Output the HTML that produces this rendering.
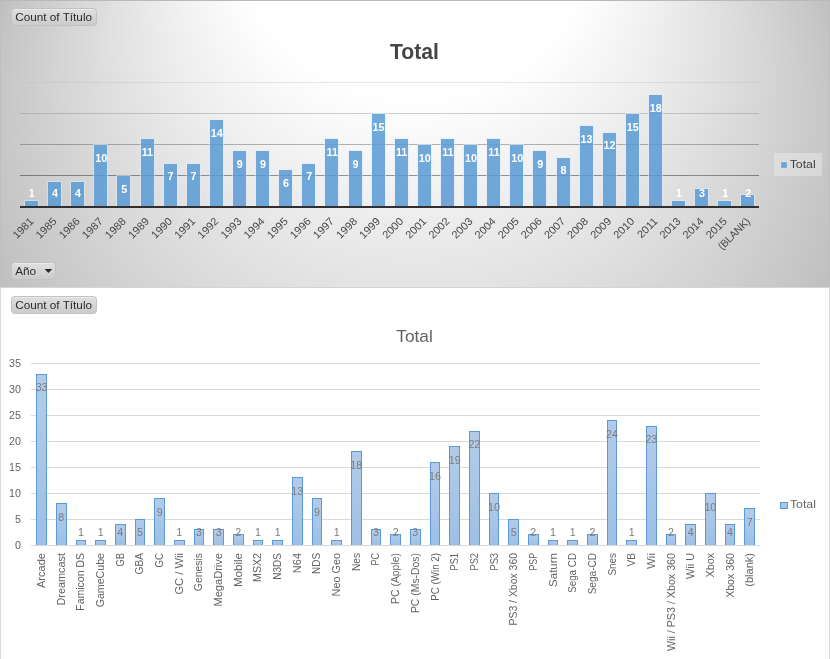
<!DOCTYPE html>
<html lang="es"><head><meta charset="utf-8"><title>Total</title>
<style>
html,body{margin:0;padding:0;background:#fff;}
body{width:830px;height:659px;overflow:hidden;}
svg{display:block;font-family:"Liberation Sans",sans-serif;}
.xl1{font-size:10.7px;fill:#484848;text-anchor:end;}
.dl1{font-size:10.8px;font-weight:bold;fill:#fff;text-anchor:middle;}
.xl2{font-size:10.7px;fill:#636363;text-anchor:end;}
.yl2{font-size:10.7px;fill:#636363;text-anchor:end;}
.dl2{font-size:10.7px;fill:#7c7c7c;text-anchor:middle;}
.btn{font-size:11.1px;fill:#2b2b2b;}
</style></head><body>
<svg width="830" height="659" viewBox="0 0 830 659">
<defs>
<radialGradient id="bg" gradientUnits="userSpaceOnUse" cx="0" cy="0" r="1" fx="0" fy="-0.8394" gradientTransform="translate(415 143.5) scale(444.8 398.5)">
<stop offset="0" stop-color="#ffffff"/>
<stop offset="0.39" stop-color="#ffffff"/>
<stop offset="1" stop-color="#bfbfbf"/>
</radialGradient>
<linearGradient id="btn" x1="0" y1="0" x2="0" y2="1">
<stop offset="0" stop-color="#e0e0e0"/><stop offset="1" stop-color="#cbcbcb"/>
</linearGradient>
<linearGradient id="bar2" x1="0" y1="0" x2="0" y2="1">
<stop offset="0" stop-color="#b3cbea"/><stop offset="1" stop-color="#9dc0e5"/>
</linearGradient>
</defs>

<rect x="0" y="287" width="830" height="372" fill="#fff"/>
<rect x="0" y="287" width="1" height="372" fill="#d9d9d9"/>
<rect x="829" y="287" width="1" height="372" fill="#d9d9d9"/>
<rect x="0" y="0" width="830" height="288" fill="url(#bg)"/>
<rect x="0" y="0" width="830" height="1" fill="#b9b9b9"/>
<rect x="0" y="1" width="1" height="286" fill="#bfbfbf"/>
<rect x="829" y="1" width="1" height="286" fill="#bfbfbf"/>
<rect x="0" y="287" width="830" height="1" fill="#d4d4d4"/>
<rect x="20.0" y="175" width="739.0" height="1" fill="rgb(13,13,13)" opacity="0.420"/>
<rect x="20.0" y="144" width="739.0" height="1" fill="rgb(72,72,72)" opacity="0.400"/>
<rect x="20.0" y="113" width="739.0" height="1" fill="rgb(132,132,132)" opacity="0.380"/>
<rect x="20.0" y="82" width="739.0" height="1" fill="rgb(191,191,191)" opacity="0.360"/>
<rect x="25" y="201" width="13" height="6" fill="#5b9bd5" fill-opacity="0.86"/>
<path d="M24.5 207V200.5H38.5V207" fill="none" stroke="#deebf7" stroke-opacity="0.55" stroke-width="1"/>
<rect x="48" y="182" width="13" height="25" fill="#5b9bd5" fill-opacity="0.86"/>
<path d="M47.5 207V181.5H61.5V207" fill="none" stroke="#deebf7" stroke-opacity="0.55" stroke-width="1"/>
<rect x="71" y="182" width="13" height="25" fill="#5b9bd5" fill-opacity="0.86"/>
<path d="M70.5 207V181.5H84.5V207" fill="none" stroke="#deebf7" stroke-opacity="0.55" stroke-width="1"/>
<rect x="94" y="145" width="13" height="62" fill="#5b9bd5" fill-opacity="0.86"/>
<path d="M93.5 207V144.5H107.5V207" fill="none" stroke="#deebf7" stroke-opacity="0.55" stroke-width="1"/>
<rect x="117" y="176" width="13" height="31" fill="#5b9bd5" fill-opacity="0.86"/>
<path d="M116.5 207V175.5H130.5V207" fill="none" stroke="#deebf7" stroke-opacity="0.55" stroke-width="1"/>
<rect x="141" y="139" width="13" height="68" fill="#5b9bd5" fill-opacity="0.86"/>
<path d="M140.5 207V138.5H154.5V207" fill="none" stroke="#deebf7" stroke-opacity="0.55" stroke-width="1"/>
<rect x="164" y="164" width="13" height="43" fill="#5b9bd5" fill-opacity="0.86"/>
<path d="M163.5 207V163.5H177.5V207" fill="none" stroke="#deebf7" stroke-opacity="0.55" stroke-width="1"/>
<rect x="187" y="164" width="13" height="43" fill="#5b9bd5" fill-opacity="0.86"/>
<path d="M186.5 207V163.5H200.5V207" fill="none" stroke="#deebf7" stroke-opacity="0.55" stroke-width="1"/>
<rect x="210" y="120" width="13" height="87" fill="#5b9bd5" fill-opacity="0.86"/>
<path d="M209.5 207V119.5H223.5V207" fill="none" stroke="#deebf7" stroke-opacity="0.55" stroke-width="1"/>
<rect x="233" y="151" width="13" height="56" fill="#5b9bd5" fill-opacity="0.86"/>
<path d="M232.5 207V150.5H246.5V207" fill="none" stroke="#deebf7" stroke-opacity="0.55" stroke-width="1"/>
<rect x="256" y="151" width="13" height="56" fill="#5b9bd5" fill-opacity="0.86"/>
<path d="M255.5 207V150.5H269.5V207" fill="none" stroke="#deebf7" stroke-opacity="0.55" stroke-width="1"/>
<rect x="279" y="170" width="13" height="37" fill="#5b9bd5" fill-opacity="0.86"/>
<path d="M278.5 207V169.5H292.5V207" fill="none" stroke="#deebf7" stroke-opacity="0.55" stroke-width="1"/>
<rect x="302" y="164" width="13" height="43" fill="#5b9bd5" fill-opacity="0.86"/>
<path d="M301.5 207V163.5H315.5V207" fill="none" stroke="#deebf7" stroke-opacity="0.55" stroke-width="1"/>
<rect x="325" y="139" width="13" height="68" fill="#5b9bd5" fill-opacity="0.86"/>
<path d="M324.5 207V138.5H338.5V207" fill="none" stroke="#deebf7" stroke-opacity="0.55" stroke-width="1"/>
<rect x="349" y="151" width="13" height="56" fill="#5b9bd5" fill-opacity="0.86"/>
<path d="M348.5 207V150.5H362.5V207" fill="none" stroke="#deebf7" stroke-opacity="0.55" stroke-width="1"/>
<rect x="372" y="114" width="13" height="93" fill="#5b9bd5" fill-opacity="0.86"/>
<path d="M371.5 207V113.5H385.5V207" fill="none" stroke="#deebf7" stroke-opacity="0.55" stroke-width="1"/>
<rect x="395" y="139" width="13" height="68" fill="#5b9bd5" fill-opacity="0.86"/>
<path d="M394.5 207V138.5H408.5V207" fill="none" stroke="#deebf7" stroke-opacity="0.55" stroke-width="1"/>
<rect x="418" y="145" width="13" height="62" fill="#5b9bd5" fill-opacity="0.86"/>
<path d="M417.5 207V144.5H431.5V207" fill="none" stroke="#deebf7" stroke-opacity="0.55" stroke-width="1"/>
<rect x="441" y="139" width="13" height="68" fill="#5b9bd5" fill-opacity="0.86"/>
<path d="M440.5 207V138.5H454.5V207" fill="none" stroke="#deebf7" stroke-opacity="0.55" stroke-width="1"/>
<rect x="464" y="145" width="13" height="62" fill="#5b9bd5" fill-opacity="0.86"/>
<path d="M463.5 207V144.5H477.5V207" fill="none" stroke="#deebf7" stroke-opacity="0.55" stroke-width="1"/>
<rect x="487" y="139" width="13" height="68" fill="#5b9bd5" fill-opacity="0.86"/>
<path d="M486.5 207V138.5H500.5V207" fill="none" stroke="#deebf7" stroke-opacity="0.55" stroke-width="1"/>
<rect x="510" y="145" width="13" height="62" fill="#5b9bd5" fill-opacity="0.86"/>
<path d="M509.5 207V144.5H523.5V207" fill="none" stroke="#deebf7" stroke-opacity="0.55" stroke-width="1"/>
<rect x="533" y="151" width="13" height="56" fill="#5b9bd5" fill-opacity="0.86"/>
<path d="M532.5 207V150.5H546.5V207" fill="none" stroke="#deebf7" stroke-opacity="0.55" stroke-width="1"/>
<rect x="557" y="158" width="13" height="49" fill="#5b9bd5" fill-opacity="0.86"/>
<path d="M556.5 207V157.5H570.5V207" fill="none" stroke="#deebf7" stroke-opacity="0.55" stroke-width="1"/>
<rect x="580" y="126" width="13" height="81" fill="#5b9bd5" fill-opacity="0.86"/>
<path d="M579.5 207V125.5H593.5V207" fill="none" stroke="#deebf7" stroke-opacity="0.55" stroke-width="1"/>
<rect x="603" y="133" width="13" height="74" fill="#5b9bd5" fill-opacity="0.86"/>
<path d="M602.5 207V132.5H616.5V207" fill="none" stroke="#deebf7" stroke-opacity="0.55" stroke-width="1"/>
<rect x="626" y="114" width="13" height="93" fill="#5b9bd5" fill-opacity="0.86"/>
<path d="M625.5 207V113.5H639.5V207" fill="none" stroke="#deebf7" stroke-opacity="0.55" stroke-width="1"/>
<rect x="649" y="95" width="13" height="112" fill="#5b9bd5" fill-opacity="0.86"/>
<path d="M648.5 207V94.5H662.5V207" fill="none" stroke="#deebf7" stroke-opacity="0.55" stroke-width="1"/>
<rect x="672" y="201" width="13" height="6" fill="#5b9bd5" fill-opacity="0.86"/>
<path d="M671.5 207V200.5H685.5V207" fill="none" stroke="#deebf7" stroke-opacity="0.55" stroke-width="1"/>
<rect x="695" y="189" width="13" height="18" fill="#5b9bd5" fill-opacity="0.86"/>
<path d="M694.5 207V188.5H708.5V207" fill="none" stroke="#deebf7" stroke-opacity="0.55" stroke-width="1"/>
<rect x="718" y="201" width="13" height="6" fill="#5b9bd5" fill-opacity="0.86"/>
<path d="M717.5 207V200.5H731.5V207" fill="none" stroke="#deebf7" stroke-opacity="0.55" stroke-width="1"/>
<rect x="741" y="195" width="13" height="12" fill="#5b9bd5" fill-opacity="0.86"/>
<path d="M740.5 207V194.5H754.5V207" fill="none" stroke="#deebf7" stroke-opacity="0.55" stroke-width="1"/>
<rect x="20.0" y="206" width="739.0" height="2" fill="#303030"/>
<text class="dl1" transform="translate(31.85 197) scale(1.000 1)">1</text>
<text class="xl1" transform="translate(28.95 216.70) rotate(-45) scale(1.030 1)" x="0" y="7.5">1981</text>
<text class="dl1" transform="translate(54.96 197) scale(1.000 1)">4</text>
<text class="xl1" transform="translate(52.06 216.70) rotate(-45) scale(1.030 1)" x="0" y="7.5">1985</text>
<text class="dl1" transform="translate(78.07 197) scale(1.000 1)">4</text>
<text class="xl1" transform="translate(75.17 216.70) rotate(-45) scale(1.030 1)" x="0" y="7.5">1986</text>
<text class="dl1" transform="translate(101.18 162) scale(1.000 1)">10</text>
<text class="xl1" transform="translate(98.28 216.70) rotate(-45) scale(1.030 1)" x="0" y="7.5">1987</text>
<text class="dl1" transform="translate(124.29 193) scale(1.000 1)">5</text>
<text class="xl1" transform="translate(121.39 216.70) rotate(-45) scale(1.030 1)" x="0" y="7.5">1988</text>
<text class="dl1" transform="translate(147.40 156) scale(1.000 1)">11</text>
<text class="xl1" transform="translate(144.50 216.70) rotate(-45) scale(1.030 1)" x="0" y="7.5">1989</text>
<text class="dl1" transform="translate(170.51 180) scale(1.000 1)">7</text>
<text class="xl1" transform="translate(167.61 216.70) rotate(-45) scale(1.030 1)" x="0" y="7.5">1990</text>
<text class="dl1" transform="translate(193.62 180) scale(1.000 1)">7</text>
<text class="xl1" transform="translate(190.72 216.70) rotate(-45) scale(1.030 1)" x="0" y="7.5">1991</text>
<text class="dl1" transform="translate(216.73 137) scale(1.000 1)">14</text>
<text class="xl1" transform="translate(213.83 216.70) rotate(-45) scale(1.030 1)" x="0" y="7.5">1992</text>
<text class="dl1" transform="translate(239.84 168) scale(1.000 1)">9</text>
<text class="xl1" transform="translate(236.94 216.70) rotate(-45) scale(1.030 1)" x="0" y="7.5">1993</text>
<text class="dl1" transform="translate(262.95 168) scale(1.000 1)">9</text>
<text class="xl1" transform="translate(260.05 216.70) rotate(-45) scale(1.030 1)" x="0" y="7.5">1994</text>
<text class="dl1" transform="translate(286.06 187) scale(1.000 1)">6</text>
<text class="xl1" transform="translate(283.16 216.70) rotate(-45) scale(1.030 1)" x="0" y="7.5">1995</text>
<text class="dl1" transform="translate(309.17 180) scale(1.000 1)">7</text>
<text class="xl1" transform="translate(306.27 216.70) rotate(-45) scale(1.030 1)" x="0" y="7.5">1996</text>
<text class="dl1" transform="translate(332.28 156) scale(1.000 1)">11</text>
<text class="xl1" transform="translate(329.38 216.70) rotate(-45) scale(1.030 1)" x="0" y="7.5">1997</text>
<text class="dl1" transform="translate(355.39 168) scale(1.000 1)">9</text>
<text class="xl1" transform="translate(352.49 216.70) rotate(-45) scale(1.030 1)" x="0" y="7.5">1998</text>
<text class="dl1" transform="translate(378.50 131) scale(1.000 1)">15</text>
<text class="xl1" transform="translate(375.60 216.70) rotate(-45) scale(1.030 1)" x="0" y="7.5">1999</text>
<text class="dl1" transform="translate(401.61 156) scale(1.000 1)">11</text>
<text class="xl1" transform="translate(398.71 216.70) rotate(-45) scale(1.030 1)" x="0" y="7.5">2000</text>
<text class="dl1" transform="translate(424.72 162) scale(1.000 1)">10</text>
<text class="xl1" transform="translate(421.82 216.70) rotate(-45) scale(1.030 1)" x="0" y="7.5">2001</text>
<text class="dl1" transform="translate(447.83 156) scale(1.000 1)">11</text>
<text class="xl1" transform="translate(444.93 216.70) rotate(-45) scale(1.030 1)" x="0" y="7.5">2002</text>
<text class="dl1" transform="translate(470.94 162) scale(1.000 1)">10</text>
<text class="xl1" transform="translate(468.04 216.70) rotate(-45) scale(1.030 1)" x="0" y="7.5">2003</text>
<text class="dl1" transform="translate(494.05 156) scale(1.000 1)">11</text>
<text class="xl1" transform="translate(491.15 216.70) rotate(-45) scale(1.030 1)" x="0" y="7.5">2004</text>
<text class="dl1" transform="translate(517.16 162) scale(1.000 1)">10</text>
<text class="xl1" transform="translate(514.26 216.70) rotate(-45) scale(1.030 1)" x="0" y="7.5">2005</text>
<text class="dl1" transform="translate(540.27 168) scale(1.000 1)">9</text>
<text class="xl1" transform="translate(537.37 216.70) rotate(-45) scale(1.030 1)" x="0" y="7.5">2006</text>
<text class="dl1" transform="translate(563.38 174) scale(1.000 1)">8</text>
<text class="xl1" transform="translate(560.48 216.70) rotate(-45) scale(1.030 1)" x="0" y="7.5">2007</text>
<text class="dl1" transform="translate(586.49 143) scale(1.000 1)">13</text>
<text class="xl1" transform="translate(583.59 216.70) rotate(-45) scale(1.030 1)" x="0" y="7.5">2008</text>
<text class="dl1" transform="translate(609.60 149) scale(1.000 1)">12</text>
<text class="xl1" transform="translate(606.70 216.70) rotate(-45) scale(1.030 1)" x="0" y="7.5">2009</text>
<text class="dl1" transform="translate(632.71 131) scale(1.000 1)">15</text>
<text class="xl1" transform="translate(629.81 216.70) rotate(-45) scale(1.030 1)" x="0" y="7.5">2010</text>
<text class="dl1" transform="translate(655.82 112) scale(1.000 1)">18</text>
<text class="xl1" transform="translate(652.92 216.70) rotate(-45) scale(1.030 1)" x="0" y="7.5">2011</text>
<text class="dl1" transform="translate(678.93 197) scale(1.000 1)">1</text>
<text class="xl1" transform="translate(676.03 216.70) rotate(-45) scale(1.030 1)" x="0" y="7.5">2013</text>
<text class="dl1" transform="translate(702.04 197) scale(1.000 1)">3</text>
<text class="xl1" transform="translate(699.14 216.70) rotate(-45) scale(1.030 1)" x="0" y="7.5">2014</text>
<text class="dl1" transform="translate(725.15 197) scale(1.000 1)">1</text>
<text class="xl1" transform="translate(722.25 216.70) rotate(-45) scale(1.030 1)" x="0" y="7.5">2015</text>
<text class="dl1" transform="translate(748.26 197) scale(1.000 1)">2</text>
<text class="xl1" transform="translate(745.36 216.70) rotate(-45) scale(0.950 1)" x="0" y="7.5">(BLANK)</text>
<text transform="translate(414.5 58.6) scale(0.98 1)" text-anchor="middle" font-size="21.6" font-weight="bold" fill="#454545">Total</text>
<rect x="774" y="153" width="48" height="23" fill="#f2f2f2" opacity="0.39"/>
<rect x="781" y="162" width="6" height="6" fill="#5b9bd5" fill-opacity="0.85" stroke="#fff" stroke-opacity="0.3" stroke-width="0.6"/>
<text transform="translate(789.7 168) scale(1.09 1)" font-size="11.3" fill="#404040">Total</text>
<rect x="11.5" y="8.5" width="85.0" height="17.0" rx="3.2" ry="3.2" fill="url(#btn)" stroke="#c2c2c2" stroke-width="1"/>
<path d="M14.0 9.5 h80.0" stroke="#ececec" stroke-opacity="0.7" stroke-width="1" fill="none"/>
<text class="btn" transform="translate(15.2 21.0) scale(1.06 1)">Count of Título</text>
<rect x="11.5" y="262.5" width="44.0" height="17.0" rx="3.2" ry="3.2" fill="url(#btn)" stroke="#c2c2c2" stroke-width="1"/>
<path d="M14.0 263.5 h39.0" stroke="#ececec" stroke-opacity="0.7" stroke-width="1" fill="none"/>
<text class="btn" transform="translate(15.2 275.0) scale(1.06 1)">Año</text>
<path d="M44.6 268.9 h7.6 l-3.8 4.2 z" fill="#262626"/>
<rect x="11.5" y="296.5" width="85.0" height="17.0" rx="3.2" ry="3.2" fill="url(#btn)" stroke="#c2c2c2" stroke-width="1"/>
<path d="M14.0 297.5 h80.0" stroke="#ececec" stroke-opacity="0.7" stroke-width="1" fill="none"/>
<text class="btn" transform="translate(15.2 309.0) scale(1.06 1)">Count of Título</text>
<text transform="translate(414.5 342) scale(1.04 1)" text-anchor="middle" font-size="16.6" fill="#626262">Total</text>
<rect x="31.0" y="519" width="729.0" height="1" fill="#d9d9d9"/>
<rect x="31.0" y="493" width="729.0" height="1" fill="#d9d9d9"/>
<rect x="31.0" y="467" width="729.0" height="1" fill="#d9d9d9"/>
<rect x="31.0" y="441" width="729.0" height="1" fill="#d9d9d9"/>
<rect x="31.0" y="415" width="729.0" height="1" fill="#d9d9d9"/>
<rect x="31.0" y="389" width="729.0" height="1" fill="#d9d9d9"/>
<rect x="31.0" y="363" width="729.0" height="1" fill="#d9d9d9"/>
<rect x="36.5" y="374.5" width="10" height="171.0" fill="url(#bar2)" stroke="#5b9bd5" stroke-width="1"/>
<rect x="56.5" y="503.5" width="10" height="42.0" fill="url(#bar2)" stroke="#5b9bd5" stroke-width="1"/>
<rect x="76.5" y="540.5" width="9" height="5.0" fill="url(#bar2)" stroke="#5b9bd5" stroke-width="1"/>
<rect x="95.5" y="540.5" width="10" height="5.0" fill="url(#bar2)" stroke="#5b9bd5" stroke-width="1"/>
<rect x="115.5" y="524.5" width="10" height="21.0" fill="url(#bar2)" stroke="#5b9bd5" stroke-width="1"/>
<rect x="135.5" y="519.5" width="9" height="26.0" fill="url(#bar2)" stroke="#5b9bd5" stroke-width="1"/>
<rect x="154.5" y="498.5" width="10" height="47.0" fill="url(#bar2)" stroke="#5b9bd5" stroke-width="1"/>
<rect x="174.5" y="540.5" width="10" height="5.0" fill="url(#bar2)" stroke="#5b9bd5" stroke-width="1"/>
<rect x="194.5" y="529.5" width="9" height="16.0" fill="url(#bar2)" stroke="#5b9bd5" stroke-width="1"/>
<rect x="213.5" y="529.5" width="10" height="16.0" fill="url(#bar2)" stroke="#5b9bd5" stroke-width="1"/>
<rect x="233.5" y="534.5" width="10" height="11.0" fill="url(#bar2)" stroke="#5b9bd5" stroke-width="1"/>
<rect x="253.5" y="540.5" width="9" height="5.0" fill="url(#bar2)" stroke="#5b9bd5" stroke-width="1"/>
<rect x="272.5" y="540.5" width="10" height="5.0" fill="url(#bar2)" stroke="#5b9bd5" stroke-width="1"/>
<rect x="292.5" y="477.5" width="10" height="68.0" fill="url(#bar2)" stroke="#5b9bd5" stroke-width="1"/>
<rect x="312.5" y="498.5" width="9" height="47.0" fill="url(#bar2)" stroke="#5b9bd5" stroke-width="1"/>
<rect x="331.5" y="540.5" width="10" height="5.0" fill="url(#bar2)" stroke="#5b9bd5" stroke-width="1"/>
<rect x="351.5" y="451.5" width="10" height="94.0" fill="url(#bar2)" stroke="#5b9bd5" stroke-width="1"/>
<rect x="371.5" y="529.5" width="9" height="16.0" fill="url(#bar2)" stroke="#5b9bd5" stroke-width="1"/>
<rect x="390.5" y="534.5" width="10" height="11.0" fill="url(#bar2)" stroke="#5b9bd5" stroke-width="1"/>
<rect x="410.5" y="529.5" width="10" height="16.0" fill="url(#bar2)" stroke="#5b9bd5" stroke-width="1"/>
<rect x="430.5" y="462.5" width="9" height="83.0" fill="url(#bar2)" stroke="#5b9bd5" stroke-width="1"/>
<rect x="449.5" y="446.5" width="10" height="99.0" fill="url(#bar2)" stroke="#5b9bd5" stroke-width="1"/>
<rect x="469.5" y="431.5" width="10" height="114.0" fill="url(#bar2)" stroke="#5b9bd5" stroke-width="1"/>
<rect x="489.5" y="493.5" width="9" height="52.0" fill="url(#bar2)" stroke="#5b9bd5" stroke-width="1"/>
<rect x="508.5" y="519.5" width="10" height="26.0" fill="url(#bar2)" stroke="#5b9bd5" stroke-width="1"/>
<rect x="528.5" y="534.5" width="10" height="11.0" fill="url(#bar2)" stroke="#5b9bd5" stroke-width="1"/>
<rect x="548.5" y="540.5" width="9" height="5.0" fill="url(#bar2)" stroke="#5b9bd5" stroke-width="1"/>
<rect x="567.5" y="540.5" width="10" height="5.0" fill="url(#bar2)" stroke="#5b9bd5" stroke-width="1"/>
<rect x="587.5" y="534.5" width="10" height="11.0" fill="url(#bar2)" stroke="#5b9bd5" stroke-width="1"/>
<rect x="607.5" y="420.5" width="9" height="125.0" fill="url(#bar2)" stroke="#5b9bd5" stroke-width="1"/>
<rect x="626.5" y="540.5" width="10" height="5.0" fill="url(#bar2)" stroke="#5b9bd5" stroke-width="1"/>
<rect x="646.5" y="426.5" width="10" height="119.0" fill="url(#bar2)" stroke="#5b9bd5" stroke-width="1"/>
<rect x="666.5" y="534.5" width="9" height="11.0" fill="url(#bar2)" stroke="#5b9bd5" stroke-width="1"/>
<rect x="685.5" y="524.5" width="10" height="21.0" fill="url(#bar2)" stroke="#5b9bd5" stroke-width="1"/>
<rect x="705.5" y="493.5" width="10" height="52.0" fill="url(#bar2)" stroke="#5b9bd5" stroke-width="1"/>
<rect x="725.5" y="524.5" width="9" height="21.0" fill="url(#bar2)" stroke="#5b9bd5" stroke-width="1"/>
<rect x="744.5" y="508.5" width="10" height="37.0" fill="url(#bar2)" stroke="#5b9bd5" stroke-width="1"/>
<rect x="31.0" y="545" width="729.0" height="1" fill="#d9d9d9"/>
<text class="yl2" x="21" y="549.30">0</text>
<text class="yl2" x="21" y="523.30">5</text>
<text class="yl2" x="21" y="497.30">10</text>
<text class="yl2" x="21" y="471.30">15</text>
<text class="yl2" x="21" y="445.30">20</text>
<text class="yl2" x="21" y="419.30">25</text>
<text class="yl2" x="21" y="393.30">30</text>
<text class="yl2" x="21" y="367.30">35</text>
<text class="dl2" x="41.60" y="391">33</text>
<text class="xl2" transform="translate(41.30 553.00) rotate(-90) scale(1.035 1)" x="0" y="3.80">Arcade</text>
<text class="dl2" x="61.27" y="521">8</text>
<text class="xl2" transform="translate(60.97 553.00) rotate(-90) scale(1.018 1)" x="0" y="3.80">Dreamcast</text>
<text class="dl2" x="80.94" y="536">1</text>
<text class="xl2" transform="translate(80.64 553.00) rotate(-90) scale(0.983 1)" x="0" y="3.80">Famicon DS</text>
<text class="dl2" x="100.61" y="536">1</text>
<text class="xl2" transform="translate(100.31 553.00) rotate(-90) scale(0.994 1)" x="0" y="3.80">GameCube</text>
<text class="dl2" x="120.28" y="536">4</text>
<text class="xl2" transform="translate(119.98 553.00) rotate(-90) scale(0.880 1)" x="0" y="3.80">GB</text>
<text class="dl2" x="139.95" y="536">5</text>
<text class="xl2" transform="translate(139.65 553.00) rotate(-90) scale(0.950 1)" x="0" y="3.80">GBA</text>
<text class="dl2" x="159.62" y="516">9</text>
<text class="xl2" transform="translate(159.32 553.00) rotate(-90) scale(0.900 1)" x="0" y="3.80">GC</text>
<text class="dl2" x="179.29" y="536">1</text>
<text class="xl2" transform="translate(178.99 553.00) rotate(-90) scale(1.045 1)" x="0" y="3.80">GC / Wii</text>
<text class="dl2" x="198.96" y="536">3</text>
<text class="xl2" transform="translate(198.66 553.00) rotate(-90) scale(0.972 1)" x="0" y="3.80">Genesis</text>
<text class="dl2" x="218.63" y="536">3</text>
<text class="xl2" transform="translate(218.33 553.00) rotate(-90) scale(1.035 1)" x="0" y="3.80">MegaDrive</text>
<text class="dl2" x="238.30" y="536">2</text>
<text class="xl2" transform="translate(238.00 553.00) rotate(-90) scale(1.080 1)" x="0" y="3.80">Mobile</text>
<text class="dl2" x="257.97" y="536">1</text>
<text class="xl2" transform="translate(257.67 553.00) rotate(-90) scale(0.996 1)" x="0" y="3.80">MSX2</text>
<text class="dl2" x="277.64" y="536">1</text>
<text class="xl2" transform="translate(277.34 553.00) rotate(-90) scale(0.939 1)" x="0" y="3.80">N3DS</text>
<text class="dl2" x="297.31" y="495">13</text>
<text class="xl2" transform="translate(297.01 553.00) rotate(-90) scale(1.026 1)" x="0" y="3.80">N64</text>
<text class="dl2" x="316.98" y="516">9</text>
<text class="xl2" transform="translate(316.68 553.00) rotate(-90) scale(0.927 1)" x="0" y="3.80">NDS</text>
<text class="dl2" x="336.65" y="536">1</text>
<text class="xl2" transform="translate(336.35 553.00) rotate(-90) scale(1.014 1)" x="0" y="3.80">Neo Geo</text>
<text class="dl2" x="356.32" y="469">18</text>
<text class="xl2" transform="translate(356.02 553.00) rotate(-90) scale(0.950 1)" x="0" y="3.80">Nes</text>
<text class="dl2" x="375.99" y="536">3</text>
<text class="xl2" transform="translate(375.69 553.00) rotate(-90) scale(0.850 1)" x="0" y="3.80">PC</text>
<text class="dl2" x="395.66" y="536">2</text>
<text class="xl2" transform="translate(395.36 553.00) rotate(-90) scale(0.975 1)" x="0" y="3.80">PC (Apple)</text>
<text class="dl2" x="415.33" y="536">3</text>
<text class="xl2" transform="translate(415.03 553.00) rotate(-90) scale(0.972 1)" x="0" y="3.80">PC (Ms-Dos)</text>
<text class="dl2" x="435.00" y="480">16</text>
<text class="xl2" transform="translate(434.70 553.00) rotate(-90) scale(0.915 1)" x="0" y="3.80">PC (Win 2)</text>
<text class="dl2" x="454.67" y="464">19</text>
<text class="xl2" transform="translate(454.37 553.00) rotate(-90) scale(0.865 1)" x="0" y="3.80">PS1</text>
<text class="dl2" x="474.34" y="448">22</text>
<text class="xl2" transform="translate(474.04 553.00) rotate(-90) scale(0.865 1)" x="0" y="3.80">PS2</text>
<text class="dl2" x="494.01" y="511">10</text>
<text class="xl2" transform="translate(493.71 553.00) rotate(-90) scale(0.865 1)" x="0" y="3.80">PS3</text>
<text class="dl2" x="513.68" y="536">5</text>
<text class="xl2" transform="translate(513.38 553.00) rotate(-90) scale(0.977 1)" x="0" y="3.80">PS3 / Xbox 360</text>
<text class="dl2" x="533.35" y="536">2</text>
<text class="xl2" transform="translate(533.05 553.00) rotate(-90) scale(0.820 1)" x="0" y="3.80">PSP</text>
<text class="dl2" x="553.02" y="536">1</text>
<text class="xl2" transform="translate(552.72 553.00) rotate(-90) scale(1.077 1)" x="0" y="3.80">Saturn</text>
<text class="dl2" x="572.69" y="536">1</text>
<text class="xl2" transform="translate(572.39 553.00) rotate(-90) scale(0.919 1)" x="0" y="3.80">Sega CD</text>
<text class="dl2" x="592.36" y="536">2</text>
<text class="xl2" transform="translate(592.06 553.00) rotate(-90) scale(0.940 1)" x="0" y="3.80">Sega-CD</text>
<text class="dl2" x="612.03" y="438">24</text>
<text class="xl2" transform="translate(611.73 553.00) rotate(-90) scale(0.925 1)" x="0" y="3.80">Snes</text>
<text class="dl2" x="631.70" y="536">1</text>
<text class="xl2" transform="translate(631.40 553.00) rotate(-90) scale(0.950 1)" x="0" y="3.80">VB</text>
<text class="dl2" x="651.37" y="443">23</text>
<text class="xl2" transform="translate(651.07 553.00) rotate(-90) scale(1.080 1)" x="0" y="3.80">Wii</text>
<text class="dl2" x="671.04" y="536">2</text>
<text class="xl2" transform="translate(670.74 553.00) rotate(-90) scale(1.000 1)" x="0" y="3.80">Wii / PS3 / Xbox 360</text>
<text class="dl2" x="690.71" y="536">4</text>
<text class="xl2" transform="translate(690.41 553.00) rotate(-90) scale(1.016 1)" x="0" y="3.80">Wii U</text>
<text class="dl2" x="710.38" y="511">10</text>
<text class="xl2" transform="translate(710.08 553.00) rotate(-90) scale(1.000 1)" x="0" y="3.80">Xbox</text>
<text class="dl2" x="730.05" y="536">4</text>
<text class="xl2" transform="translate(729.75 553.00) rotate(-90) scale(0.993 1)" x="0" y="3.80">Xbox 360</text>
<text class="dl2" x="749.72" y="526">7</text>
<text class="xl2" transform="translate(749.42 553.00) rotate(-90) scale(1.031 1)" x="0" y="3.80">(blank)</text>
<rect x="780.5" y="502.5" width="7" height="6" fill="url(#bar2)" stroke="#5b9bd5" stroke-width="1"/>
<text transform="translate(789.9 508.2) scale(1.09 1)" font-size="11.3" fill="#636363">Total</text>
</svg>
</body></html>
